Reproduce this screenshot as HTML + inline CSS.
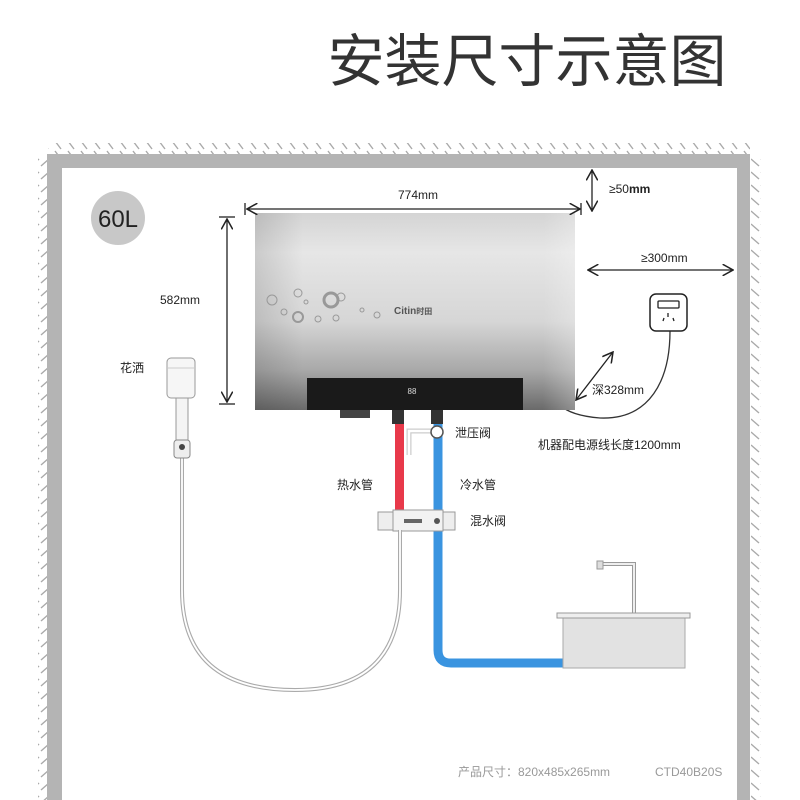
<!DOCTYPE html>
<html><head><meta charset="utf-8"><style>
body{margin:0;background:#fff;}
svg{display:block;font-family:"Liberation Sans","Noto Sans CJK SC",sans-serif;}
</style></head><body>
<svg width="800" height="800" viewBox="0 0 800 800" xmlns="http://www.w3.org/2000/svg">
<defs>
<linearGradient id="hg" x1="0" y1="0" x2="0" y2="1">
<stop offset="0" stop-color="#d4d4d4"/><stop offset="0.2" stop-color="#e6e6e6"/><stop offset="0.55" stop-color="#d6d6d6"/><stop offset="0.8" stop-color="#a8a8a8"/><stop offset="1" stop-color="#6a6a6a"/>
</linearGradient>
<linearGradient id="hs" x1="0" y1="0" x2="1" y2="0">
<stop offset="0" stop-color="#000" stop-opacity="0.12"/><stop offset="0.15" stop-color="#000" stop-opacity="0"/><stop offset="0.9" stop-color="#fff" stop-opacity="0"/><stop offset="1" stop-color="#fff" stop-opacity="0.25"/>
</linearGradient>
<pattern id="hatchT" width="13" height="10" patternUnits="userSpaceOnUse"><path d="M3 1 L9 9" stroke="#aaa" stroke-width="1.4"/></pattern>
<pattern id="hatchL" width="10" height="13" patternUnits="userSpaceOnUse"><path d="M1 10 L9 3" stroke="#aaa" stroke-width="1.4"/></pattern>
<pattern id="hatchR" width="10" height="13" patternUnits="userSpaceOnUse"><path d="M1 3 L9 10" stroke="#aaa" stroke-width="1.4"/></pattern>
<marker id="ar" viewBox="0 0 10 10" refX="9" refY="5" markerWidth="9" markerHeight="9" orient="auto-start-reverse"><path d="M0 0 L9 5 L0 10" fill="none" stroke="#222" stroke-width="1.3"/></marker>
</defs>
<text x="527" y="81" font-size="57" fill="#333" text-anchor="middle">安装尺寸示意图</text>
<!-- walls -->
<rect x="48" y="143" width="702" height="11" fill="url(#hatchT)"/>
<rect x="38" y="154" width="9" height="646" fill="url(#hatchL)"/>
<rect x="751" y="154" width="10" height="646" fill="url(#hatchR)"/>
<rect x="47" y="154" width="703" height="14" fill="#b4b4b4"/>
<rect x="47" y="154" width="15" height="646" fill="#b4b4b4"/>
<rect x="737" y="154" width="13" height="646" fill="#b4b4b4"/>
<!-- 60L -->
<circle cx="118" cy="218" r="27" fill="#c8c8c8"/>
<text x="118" y="227" font-size="24" fill="#222" text-anchor="middle">60L</text>
<!-- power cord -->
<path d="M670 331 C670 380 650 420 600 418 C575 416 565 410 560 405" fill="none" stroke="#333" stroke-width="1.3"/>
<!-- heater -->
<rect x="255" y="213" width="320" height="197" fill="url(#hg)"/>
<rect x="255" y="213" width="320" height="197" fill="url(#hs)"/>
<rect x="307" y="378" width="216" height="32" fill="#1a1a1a"/>
<text x="412" y="394" font-size="8" fill="#ddd" text-anchor="middle">88</text>
<g fill="none" stroke="#999" stroke-width="1">
<circle cx="272" cy="300" r="5"/><circle cx="298" cy="293" r="4"/><circle cx="331" cy="300" r="7" stroke-width="3"/><circle cx="341" cy="297" r="4"/><circle cx="298" cy="317" r="5" stroke-width="2"/><circle cx="318" cy="319" r="3"/><circle cx="336" cy="318" r="3"/><circle cx="377" cy="315" r="3"/><circle cx="362" cy="310" r="2"/><circle cx="284" cy="312" r="3"/><circle cx="306" cy="302" r="2"/>
</g>
<text x="394" y="314" font-size="10" font-weight="bold" fill="#555">Citin<tspan font-size="8">时田</tspan></text>
<rect x="340" y="410" width="30" height="8" fill="#444"/>
<rect x="392" y="410" width="12" height="14" fill="#333"/>
<rect x="431" y="410" width="12" height="14" fill="#333"/>
<!-- pipes -->
<rect x="395" y="424" width="9" height="90" fill="#e8394a"/>
<path d="M438 424 V650 Q438 663 451 663 H565" fill="none" stroke="#3a94e0" stroke-width="9"/>
<path d="M409 455 V431 H432" fill="none" stroke="#ccc" stroke-width="5"/>
<path d="M409 455 V431 H432" fill="none" stroke="#fff" stroke-width="2.5"/>
<circle cx="437" cy="432" r="6" fill="#fff" stroke="#555" stroke-width="1.5"/>
<!-- mixer -->
<rect x="378" y="512" width="77" height="18" fill="#eee" stroke="#999"/>
<rect x="393" y="510" width="50" height="21" fill="#f2f2f2" stroke="#999"/>
<rect x="404" y="519" width="18" height="4" fill="#666"/>
<circle cx="437" cy="521" r="3" fill="#555"/>
<!-- hose -->
<path d="M182 458 V590 Q182 690 295 690 Q400 690 400 590 V530" fill="none" stroke="#aaa" stroke-width="4"/>
<path d="M182 458 V590 Q182 690 295 690 Q400 690 400 590 V530" fill="none" stroke="#fff" stroke-width="1.8"/>
<!-- shower head -->
<rect x="176" y="397" width="12" height="48" fill="#f4f4f4" stroke="#999"/>
<rect x="174" y="440" width="16" height="18" rx="3" fill="#eee" stroke="#888"/>
<circle cx="182" cy="447" r="3" fill="#444"/>
<rect x="167" y="358" width="28" height="40" rx="4" fill="#f6f6f6" stroke="#999"/>
<line x1="168" y1="368" x2="194" y2="368" stroke="#ccc"/>
<!-- sink -->
<path d="M634 613 V564 H600" fill="none" stroke="#999" stroke-width="4"/>
<path d="M634 613 V564 H600" fill="none" stroke="#eee" stroke-width="2"/>
<rect x="597" y="561" width="6" height="8" fill="#ddd" stroke="#999"/>
<rect x="563" y="618" width="122" height="50" fill="#e2e2e2" stroke="#aaa"/>
<rect x="557" y="613" width="133" height="5" fill="#eee" stroke="#999"/>
<!-- dimensions -->
<g stroke="#222" stroke-width="1.3" fill="none">
<line x1="247" y1="209" x2="580" y2="209" marker-start="url(#ar)" marker-end="url(#ar)"/>
<line x1="245" y1="203" x2="245" y2="215"/><line x1="581" y1="203" x2="581" y2="215"/>
<line x1="227" y1="219" x2="227" y2="402" marker-start="url(#ar)" marker-end="url(#ar)"/>
<line x1="219" y1="217" x2="235" y2="217"/><line x1="219" y1="404" x2="235" y2="404"/>
<line x1="592" y1="170" x2="592" y2="211" marker-start="url(#ar)" marker-end="url(#ar)"/>
<line x1="588" y1="270" x2="733" y2="270" marker-start="url(#ar)" marker-end="url(#ar)"/>
<line x1="576" y1="400" x2="613" y2="352" marker-start="url(#ar)" marker-end="url(#ar)"/>
</g>
<rect x="650" y="294" width="37" height="37" rx="6" fill="#fff" stroke="#222" stroke-width="1.5"/>
<rect x="658" y="301" width="21" height="7" rx="1" fill="none" stroke="#222" stroke-width="1.3"/>
<path d="M668 313 v4 M664 318 l-1 3 M673 318 l1 3" stroke="#222" stroke-width="1.3"/>
<g font-size="12" fill="#222">
<text x="398" y="199">774mm</text>
<text x="160" y="304">582mm</text>
<text x="609" y="193">≥50<tspan font-weight="bold">mm</tspan></text>
<text x="641" y="262">≥300mm</text>
<text x="592" y="394">深328mm</text>
<text x="120" y="372">花洒</text>
<text x="455" y="437">泄压阀</text>
<text x="538" y="449">机器配电源线长度1200mm</text>
<text x="337" y="489">热水管</text>
<text x="460" y="489">冷水管</text>
<text x="470" y="525">混水阀</text>
</g>
<text x="458" y="776" font-size="12" fill="#999">产品尺寸：820x485x265mm</text>
<text x="655" y="776" font-size="12" fill="#999">CTD40B20S</text>
</svg>
</body></html>
